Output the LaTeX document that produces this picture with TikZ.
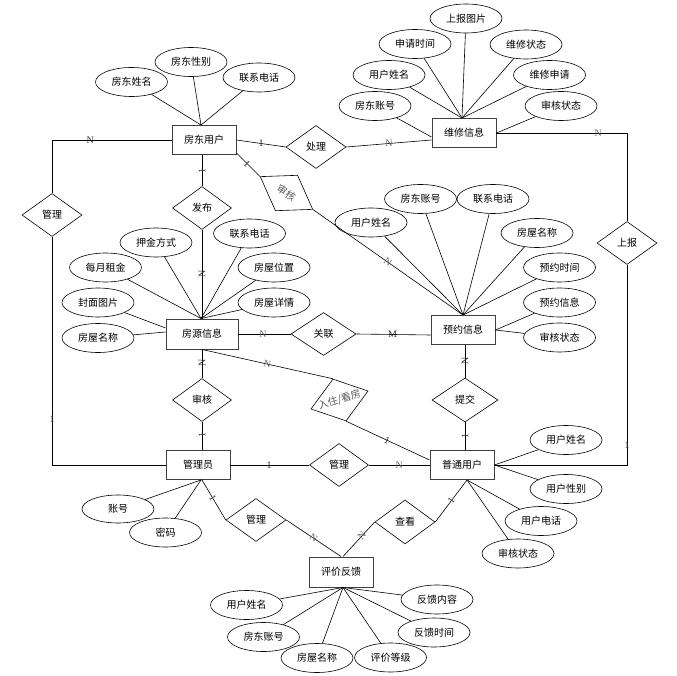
\documentclass[tikz,border=0pt]{standalone}
\usepackage{fontspec}
\setmainfont{Liberation Serif}
\newfontfamily\cjk{Noto Sans CJK SC}
\usetikzlibrary{shapes.geometric,calc}
\begin{document}
\begin{tikzpicture}[x=1pt,y=-1pt,
 every node/.style={font=\cjk\fontsize{10}{12}\selectfont},
 ent/.style={draw=black!75, line width=0.95pt, minimum width=64pt, minimum height=29pt, inner sep=0pt},
 attr/.style={draw, ellipse, line width=0.6pt, minimum width=72pt, minimum height=29pt, inner sep=0pt},
 rel/.style={draw, diamond, line width=0.6pt, minimum width=60pt, minimum height=43pt, inner sep=0pt},
 conn/.style={line width=0.6pt},
 lab/.style={font=\fontsize{10}{10}\selectfont, inner sep=0pt, text=black!80},
 glab/.style={lab, text=black!60},
]
\useasboundingbox (0,0) rectangle (677,676);

% entities
\node[ent] (fd) at (204,140) {房东用户};
\node[ent] (wx) at (464,133) {维修信息};
\node[ent, minimum width=72pt, minimum height=30pt] (fy) at (202,334) {房源信息};
\node[ent] (yy) at (463,330) {预约信息};
\node[ent] (gly) at (198,465) {管理员};
\node[ent] (pt) at (462,465) {普通用户};
\node[ent, minimum height=30pt] (pj) at (341,572) {评价反馈};

% relations
\node[rel] (chuli) at (316,147) {处理};
\node[rel, minimum width=59pt] (fb) at (202,208) {发布};
\node[rel] (gl1) at (52,215) {管理};
\node[rel, minimum width=62pt, minimum height=42pt, rotate=-32, text=black!65] (sh1) at (286.5,193) {\makebox[0pt][c]{审核}};
\node[rel, minimum width=65pt] (gll) at (323.5,334) {关联};
\node[rel, minimum width=59pt] (sh2) at (202,400) {审核};
\node[rel, minimum width=66pt, minimum height=44pt] (tj) at (465,400) {提交};
\node[rel] (sb) at (627,243) {上报};
\node[rel, minimum width=59pt] (gl2) at (339,465) {管理};
\node[rel] (gl3) at (256,520) {管理};
\node[rel, minimum height=44pt] (ck) at (405,522) {查看};
\node[rel, minimum width=60pt, minimum height=44pt, rotate=17.5, text=black!65] (rz) at (339.5,400) {\makebox[0pt][c]{入住/看房}};

% attributes
\node[attr] (a11) at (131.5,82) {房东姓名};
\node[attr] (a12) at (191,62) {房东性别};
\node[attr] (a13) at (259,77.5) {联系电话};

\node[attr] (a21) at (466,18.5) {上报图片};
\node[attr] (a22) at (415,44) {申请时间};
\node[attr] (a23) at (526,44.5) {维修状态};
\node[attr] (a24) at (389,75) {用户姓名};
\node[attr] (a25) at (549.5,75) {维修申请};
\node[attr] (a26) at (375,106) {房东账号};
\node[attr] (a27) at (561,106) {审核状态};

\node[attr] (a31) at (156,242.5) {押金方式};
\node[attr] (a32) at (105.5,267.5) {每月租金};
\node[attr] (a33) at (98,302.5) {封面图片};
\node[attr] (a34) at (98,338) {房屋名称};
\node[attr] (a35) at (249.5,233.5) {联系电话};
\node[attr] (a36) at (274,267.5) {房屋位置};
\node[attr] (a37) at (274,302.5) {房屋详情};

\node[attr] (a41) at (371,222.5) {用户姓名};
\node[attr] (a42) at (420.5,199) {房东账号};
\node[attr] (a43) at (493,199) {联系电话};
\node[attr] (a44) at (537,233) {房屋名称};
\node[attr] (a45) at (559.5,267.5) {预约时间};
\node[attr] (a46) at (559.5,302.5) {预约信息};
\node[attr] (a47) at (559.5,337.5) {审核状态};

\node[attr, minimum height=28pt] (a51) at (118,509) {账号};
\node[attr] (a52) at (165.5,532.5) {密码};

\node[attr] (a61) at (566,440) {用户姓名};
\node[attr] (a62) at (566,489) {用户性别};
\node[attr] (a63) at (541,521) {用户电话};
\node[attr] (a64) at (518,553.5) {审核状态};

\node[attr] (a71) at (246.5,605) {用户姓名};
\node[attr] (a72) at (263.5,637) {房东账号};
\node[attr] (a73) at (317,658) {房屋名称};
\node[attr] (a74) at (390.5,657.5) {评价等级};
\node[attr] (a75) at (437,599.5) {反馈内容};
\node[attr] (a76) at (434,632.5) {反馈时间};

% attribute links
\foreach \a in {a11,a12,a13} \draw[conn] (\a) -- ([xshift=-3pt]fd.north);
\foreach \a in {a21,a22,a23,a24,a25} \draw[conn] (\a) -- ([xshift=-2pt]wx.north);
\draw[conn] (a26) -- ([yshift=-4pt]wx.west);
\draw[conn] (a27) -- (wx.east);
\foreach \a in {a31,a32,a35,a36,a37} \draw[conn] (\a) -- ([xshift=-1pt]fy.north);
\draw[conn] (a33) -- ([yshift=6pt]fy.west);
\draw[conn] (a34) -- ([yshift=2pt]fy.west);
\foreach \a in {a41,a42,a43,a44,a45} \draw[conn] (\a) -- (yy.north);
\foreach \a in {a46,a47} \draw[conn] (\a) -- (yy.east);
\foreach \a in {a51,a52} \draw[conn] (\a) -- ([xshift=3pt]gly.south);
\foreach \a in {a61,a62} \draw[conn] (\a) -- (pt.east);
\foreach \a in {a63,a64} \draw[conn] (\a) -- ([xshift=5pt]pt.south);
\foreach \a in {a71,a72,a73,a74,a75,a76} \draw[conn] (\a) -- ([xshift=2pt]pj.south);

% relationship links
\draw[conn] (fd.west) -| node[lab, pos=0.34] {N} (gl1.north);
\draw[conn] (gl1.south) |- node[lab, pos=0.40] {1} (gly.west);
\draw[conn] (fd.east) -- node[lab, pos=0.5] {1} (chuli.west);
\draw[conn] (chuli.east) -- node[glab, pos=0.5] {N} ([yshift=-7pt]wx.west);
\draw[conn] (wx.east) -| node[glab, pos=0.39] {N} (sb.north);
\draw[conn] (sb.south) |- node[lab, pos=0.45] {1} (pt.east);
\draw[conn] (fb.north |- fd.south) -- node[lab, rotate=90, pos=0.5] {1} (fb.north);
\draw[conn] (fb.south) -- node[lab, rotate=90, pos=0.5] {N} (fb.south |- fy.north);
\draw[conn] ([yshift=2pt]fd.south east) -- node[lab, sloped, pos=0.45] {1} (sh1.west);
\draw[conn] (sh1.east) -- node[glab, sloped, pos=0.5] {N} (yy.north);
\draw[conn] (fy.east) -- node[glab, pos=0.47] {N} (gll.west);
\draw[conn] (gll.east) -- node[lab, pos=0.49] {M} ([yshift=-5pt]yy.west);
\draw[conn] (sh2.north |- fy.south) -- node[lab, rotate=90, pos=0.47] {N} (sh2.north);
\draw[conn] (sh2.south) -- node[lab, rotate=90, pos=0.48] {1} (sh2.south |- gly.north);
\draw[conn] (fy.south) -- node[glab, sloped, pos=0.5] {N} (rz.north);
\draw[conn] (rz.south) -- node[lab, sloped, pos=0.49] {1} ([yshift=5pt]pt.west);
\draw[conn] (tj.north |- yy.south) -- node[lab, rotate=90, pos=0.5] {N} (tj.north);
\draw[conn] (tj.south) -- node[lab, rotate=90, pos=0.48] {1} (tj.south |- pt.north);
\draw[conn] (gly.east) -- node[lab, pos=0.49] {1} (gl2.west);
\draw[conn] (gl2.east) -- node[glab, pos=0.5] {N} (pt.west);
\draw[conn] ([xshift=4pt]gly.south) -- node[lab, sloped, pos=0.45] {1} (gl3.west);
\draw[conn] (gl3.east) -- node[glab, sloped, pos=0.5] {N} (pj.north);
\draw[conn] ([xshift=5pt]pt.south) -- node[lab, sloped, pos=0.5] {1} (ck.east);
\draw[conn] (ck.west) -- node[glab, sloped, pos=0.4] {N} ([xshift=2pt]pj.north);
\end{tikzpicture}
\end{document}
